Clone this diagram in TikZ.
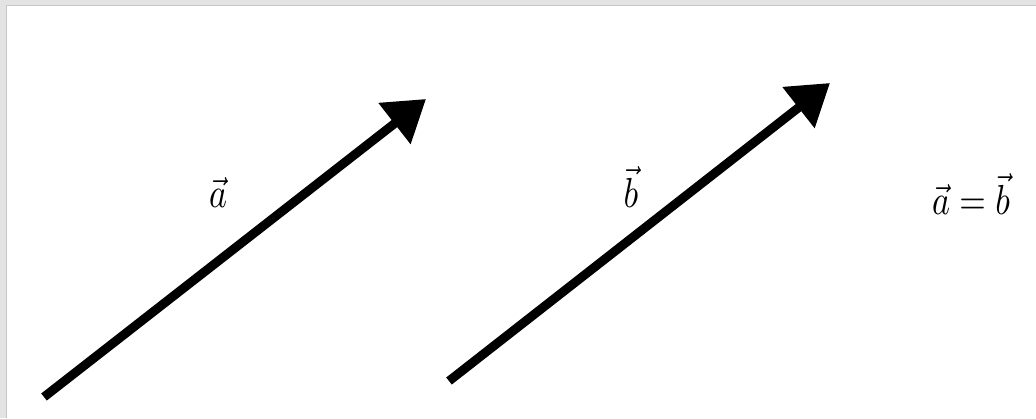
\documentclass[tikz,border=0pt]{standalone}
\usetikzlibrary{arrows.meta}
\begin{document}
\begin{tikzpicture}[x=1pt,y=1pt,
  vecline/.style={line width=9pt,-{Triangle[length=40pt,width=50pt]}},
  lbl/.style={inner sep=0pt,anchor=base}]
\useasboundingbox (0,0) rectangle (1036,418);
\fill[gray!22] (0,0) rectangle (1036,418);
\fill[white] (6,0) rectangle (1036,413);
\draw[gray!45,line width=1pt] (6.5,0) -- (6.5,412.5) -- (1036,412.5);
\coordinate (a0) at (44,21);
\coordinate (a1) at (426,319);
\coordinate (b0) at (449,37);
\coordinate (b1) at (830,335);
\draw[vecline] (a0) -- (a1);
\draw[vecline] (b0) -- (b1);
\node[lbl] (la) at (218,210) {\scalebox{3.4}[4.2]{$\vec{a}$}};
\node[lbl] (lb) at (631,210) {\scalebox{3.4}[4.2]{$\vec{b}$}};
\node[lbl] (leq) at (971,203) {\scalebox{3.4}[4.2]{$\vec{a}=\vec{b}$}};
\end{tikzpicture}
\end{document}
